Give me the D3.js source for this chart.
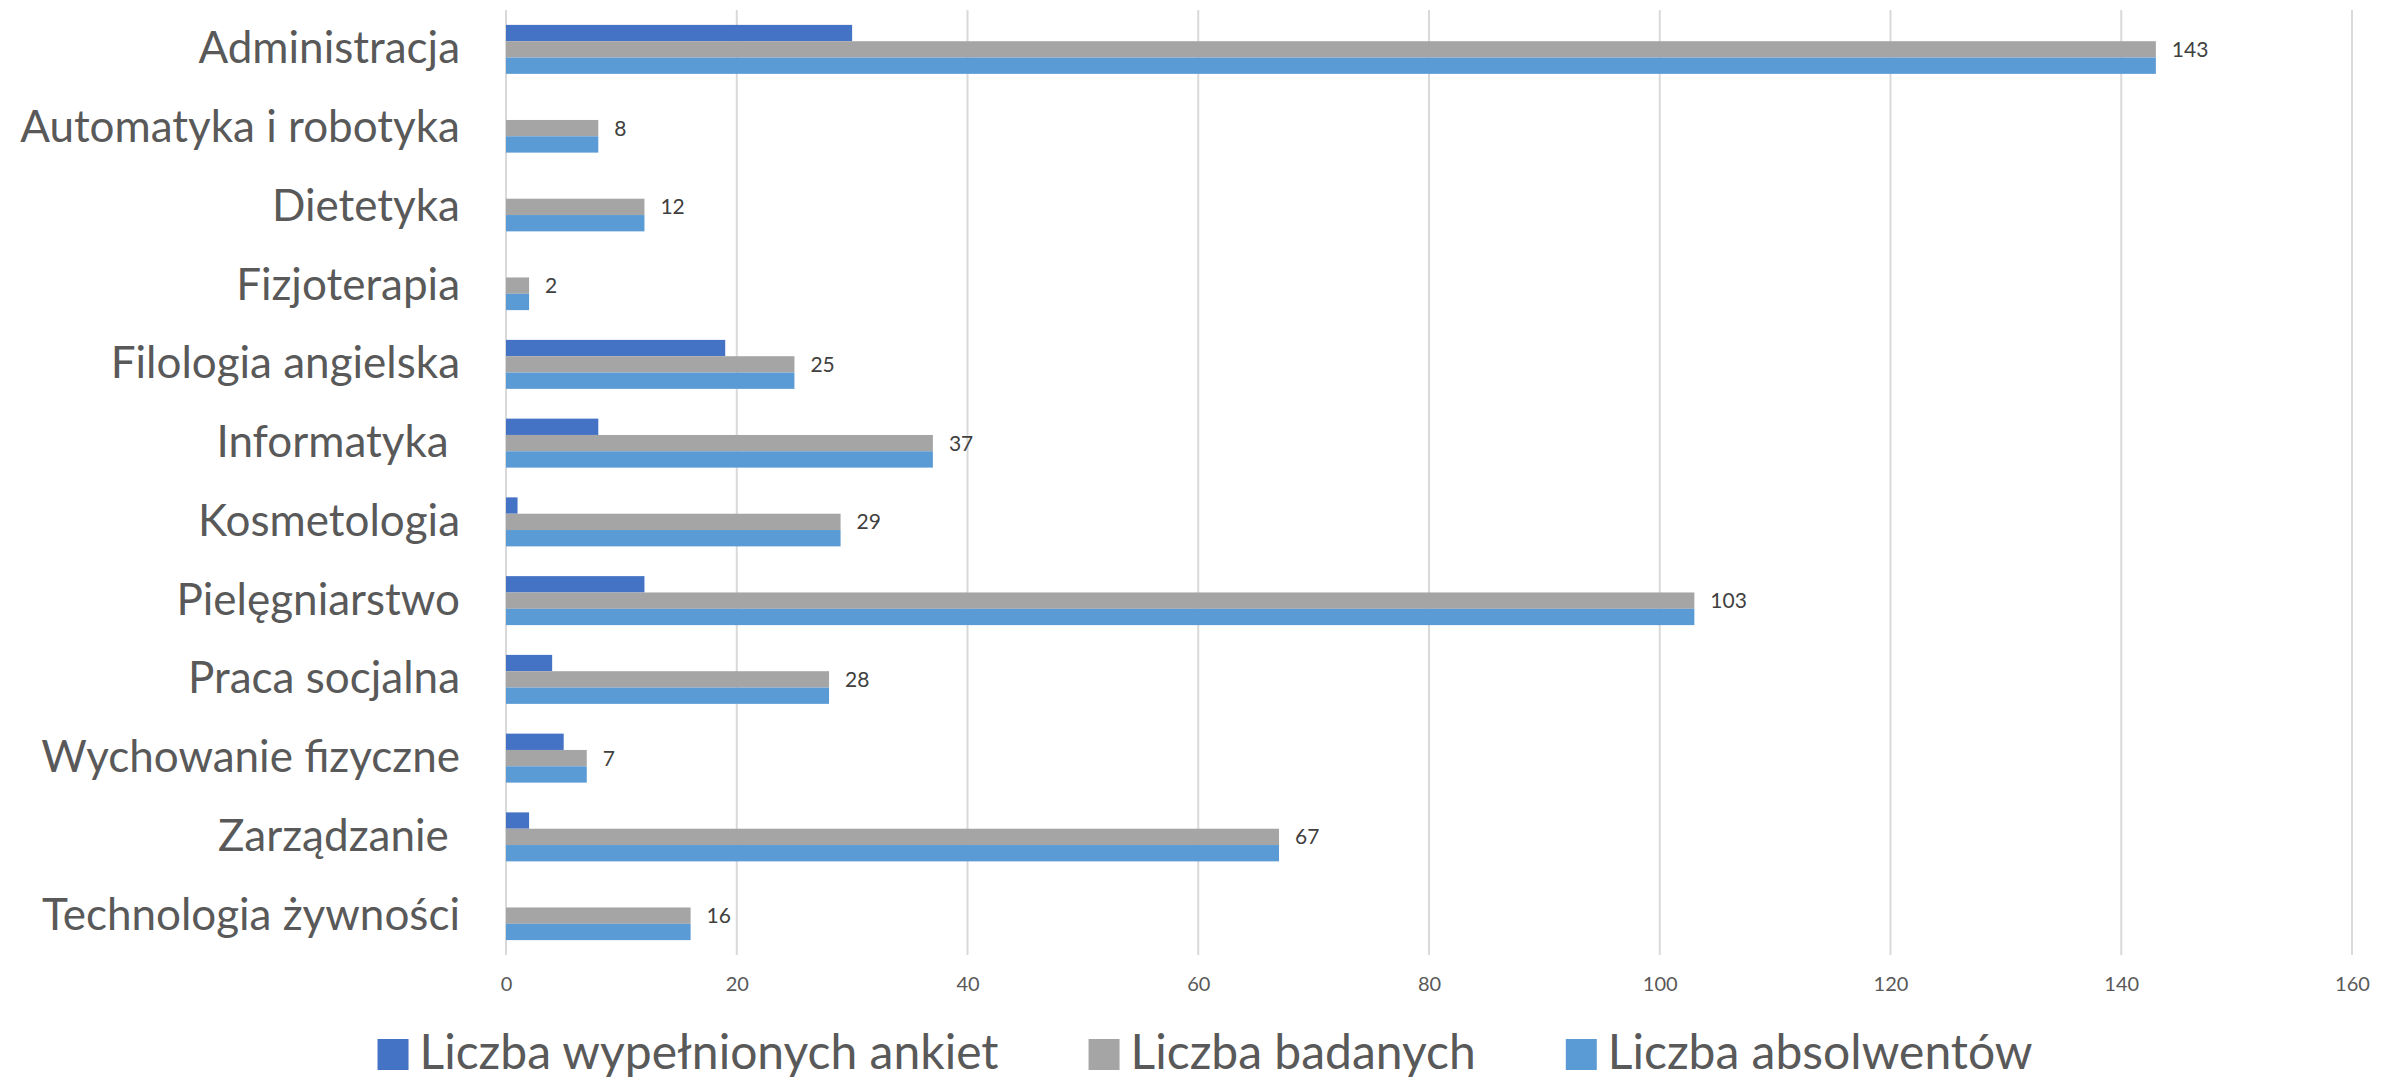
<!DOCTYPE html>
<html>
<head>
<meta charset="utf-8">
<script src="https://cdn.jsdelivr.net/npm/d3@7"></script>
<style>
  html, body { margin: 0; padding: 0; background: #fff; }
  text { font-family: Lato, "Open Sans", sans-serif; white-space: pre; }
</style>
</head>
<body>
<div id="chart"></div>
<script>
// categories (top to bottom) and series
const categories = ["Administracja", "Automatyka i robotyka", "Dietetyka", "Fizjoterapia",
  "Filologia angielska", "Informatyka ", "Kosmetologia", "Pielęgniarstwo",
  "Praca socjalna", "Wychowanie fizyczne", "Zarządzanie ", "Technologia żywności"]
const seriesNames = ["Liczba wypełnionych ankiet", "Liczba badanych", "Liczba absolwentów"]
const wypelnione = [30, 0, 0, 0, 19, 8, 1, 12, 4, 5, 2, 0]
const badani = [143, 8, 12, 2, 25, 37, 29, 103, 28, 7, 67, 16]
const absolwenci = [143, 8, 12, 2, 25, 37, 29, 103, 28, 7, 67, 16]
const xTicks = [0, 20, 40, 60, 80, 100, 120, 140, 160]

const colors = ["#4472C4", "#A5A5A5", "#5B9BD5"]
const series = [wypelnione, badani, absolwenci]

const width = 2402
const height = 1082
const margin = { top: 10, right: 50, bottom: 127, left: 506 }

const svg = d3.select("#chart").append("svg")
  .attr("width", width)
  .attr("height", height)

let x = d3.scaleLinear()
  .domain([0, 160])
  .range([margin.left, width - margin.right])

let y = d3.scaleBand()
  .domain(categories)
  .range([margin.top, height - margin.bottom])
  .paddingInner(0.378)
  .paddingOuter(0.189)

let ySub = d3.scaleBand()
  .domain(d3.range(series.length))
  .range([0, y.bandwidth()])

// gridlines
svg.append("g")
  .selectAll("line")
  .data(xTicks)
  .enter().append("line")
  .attr("x1", d => x(d)).attr("x2", d => x(d))
  .attr("y1", margin.top).attr("y2", height - margin.bottom)
  .attr("stroke", "#D9D9D9")
  .attr("stroke-width", 2)

// x axis tick labels
const xAxis = svg.append("g")
  .attr("transform", `translate(0,${height - margin.bottom})`)
  .call(d3.axisBottom(x).tickValues(xTicks).tickSize(0).tickPadding(22))
xAxis.select(".domain").remove()
xAxis.selectAll("text")
  .attr("font-size", 20)
  .attr("fill", "#595959")
  .style("font-family", "Lato, sans-serif")

// bars
series.forEach((vals, s) => {
  svg.append("g")
    .selectAll("rect")
    .data(categories)
    .enter().append("rect")
    .attr("x", x(0))
    .attr("y", d => y(d) + ySub(s))
    .attr("width", (d, i) => x(vals[i]) - x(0))
    .attr("height", ySub.bandwidth())
    .attr("fill", colors[s])
})

// data labels on the middle series
svg.append("g")
  .selectAll("text")
  .data(categories)
  .enter().append("text")
  .attr("x", (d, i) => x(badani[i]) + 16)
  .attr("y", d => y(d) + ySub(1) + ySub.bandwidth() / 2)
  .attr("dy", "0.36em")
  .attr("font-size", 21)
  .attr("fill", "#404040")
  .text((d, i) => badani[i])

// category labels
const yAxis = svg.append("g")
  .attr("transform", `translate(${margin.left},0)`)
  .call(d3.axisLeft(y).tickSize(0).tickPadding(46))
yAxis.select(".domain").remove()
yAxis.selectAll("text")
  .attr("font-size", 44)
  .attr("fill", "#595959")
  .style("font-family", "Lato, sans-serif")

// legend
const legend = svg.append("g")
const items = legend.selectAll("g")
  .data(seriesNames)
  .enter().append("g")
items.append("rect")
  .attr("width", 31).attr("height", 31)
  .attr("y", -13)
  .attr("fill", (d, i) => colors[i])
items.append("text")
  .attr("x", 42)
  .attr("dy", "0.36em")
  .attr("font-size", 48)
  .attr("fill", "#595959")
  .text(d => d)

let offset = 0
items.each(function() {
  const w = this.getBBox().width
  d3.select(this).attr("transform", `translate(${offset},0)`)
  offset += w + 90
})
offset -= 90
legend.attr("transform", `translate(${(width - offset) / 2 + 4},1052)`)
</script>
</body>
</html>
